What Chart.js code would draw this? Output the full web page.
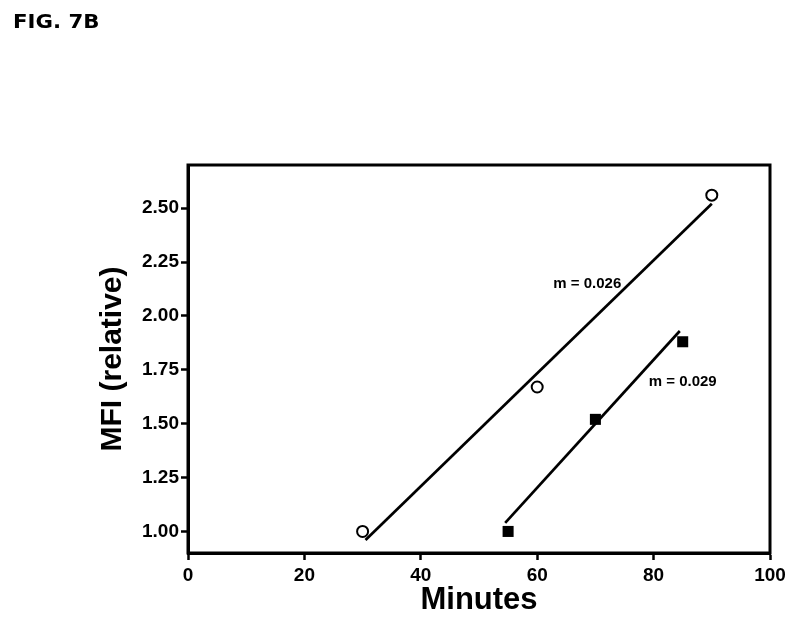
<!DOCTYPE html>
<html>
<head>
<meta charset="utf-8">
<script src="https://cdn.jsdelivr.net/npm/chart.js@4.4.1/dist/chart.umd.min.js"></script>
<style>
  html, body { margin: 0; padding: 0; background: #ffffff; }
  #wrap { width: 800px; height: 625px; position: relative; }
</style>
</head>
<body>
<div id="wrap"><canvas id="c" width="800" height="625"></canvas></div>
<script>
// ---- data ----
const figureTitle = 'FIG. 7B';
const xTitle = 'Minutes';
const yTitle = 'MFI (relative)';
const xTicks = [0, 20, 40, 60, 80, 100];
const yTicks = [1.00, 1.25, 1.50, 1.75, 2.00, 2.25, 2.50];

const circleMinutes = [30, 60, 90];
const circleMFI = [1.00, 1.67, 2.56];
const squareMinutes = [55, 70, 85];
const squareMFI = [1.00, 1.52, 1.88];

const fit1Minutes = [30.5, 90];
const fit1MFI = [0.96, 2.52];
const fit2Minutes = [54.5, 84.5];
const fit2MFI = [1.04, 1.93];

const slopeLabels = ['m = 0.026', 'm = 0.029'];
const slopeLabelX = [68.6, 85.0];
const slopeLabelY = [2.15, 1.695];

const pts = (xs, ys) => xs.map((x, i) => ({ x: x, y: ys[i] }));
const FONT = "'Liberation Sans', Arial, Helvetica, sans-serif";

const decor = {
  id: 'decor',
  afterDatasetsDraw(chart) {
    const { ctx, chartArea: a, scales } = chart;
    ctx.save();
    // plot frame
    ctx.strokeStyle = '#000';
    ctx.lineWidth = 3;
    ctx.strokeRect(a.left, a.top, a.right - a.left, a.bottom - a.top);
    // slope labels
    ctx.fillStyle = '#000';
    ctx.font = 'bold 15px ' + FONT;
    ctx.textAlign = 'center';
    ctx.textBaseline = 'middle';
    slopeLabels.forEach((t, i) => {
      ctx.fillText(t, scales.x.getPixelForValue(slopeLabelX[i]), scales.y.getPixelForValue(slopeLabelY[i]));
    });
    // figure title
    ctx.font = 'bold 19px "DejaVu Sans", ' + FONT;
    ctx.textAlign = 'left';
    ctx.textBaseline = 'alphabetic';
    ctx.translate(13, 28);
    ctx.scale(1.12, 1);
    ctx.fillText(figureTitle, 0, 0);
    ctx.restore();
  }
};

new Chart(document.getElementById('c'), {
  type: 'scatter',
  data: {
    datasets: [
      {
        data: pts(fit1Minutes, fit1MFI),
        showLine: true, borderColor: '#000', borderWidth: 2.7,
        pointRadius: 0, fill: false
      },
      {
        data: pts(fit2Minutes, fit2MFI),
        showLine: true, borderColor: '#000', borderWidth: 2.7,
        pointRadius: 0, fill: false
      },
      {
        data: pts(circleMinutes, circleMFI),
        showLine: false, pointStyle: 'circle', pointRadius: 5.5,
        pointBackgroundColor: '#fff', pointBorderColor: '#000', pointBorderWidth: 2
      },
      {
        data: pts(squareMinutes, squareMFI),
        showLine: false, pointStyle: 'rect', pointRadius: 7.8,
        pointBackgroundColor: '#000', pointBorderColor: '#000', pointBorderWidth: 0
      }
    ]
  },
  options: {
    responsive: false,
    animation: false,
    devicePixelRatio: 1,
    layout: { padding: { top: 165, right: 30, left: 0, bottom: 0 } },
    plugins: { legend: { display: false }, tooltip: { enabled: false }, title: { display: false } },
    scales: {
      x: {
        type: 'linear', position: 'bottom', min: 0, max: 100,
        afterBuildTicks: s => { s.ticks = xTicks.map(v => ({ value: v })); },
        afterFit: s => { s.height = 72; },
        ticks: { color: '#000', font: { family: FONT, size: 19, weight: 'bold' }, padding: 4, maxRotation: 0 },
        grid: { drawOnChartArea: false, drawTicks: true, tickLength: 7, tickWidth: 2.5, tickColor: '#000' },
        border: { display: true, color: '#000', width: 3 },
        title: { display: true, text: xTitle, color: '#000', font: { family: FONT, size: 31, weight: 'bold' }, padding: { top: 0, bottom: 6 } }
      },
      y: {
        type: 'linear', position: 'left', min: 0.9, max: 2.7,
        afterBuildTicks: s => { s.ticks = yTicks.map(v => ({ value: v })); },
        afterFit: s => { s.width = 188; },
        ticks: { color: '#000', font: { family: FONT, size: 19, weight: 'bold' }, padding: 2, callback: v => Number(v).toFixed(2) },
        grid: { drawOnChartArea: false, drawTicks: true, tickLength: 7, tickWidth: 2.5, tickColor: '#000' },
        border: { display: true, color: '#000', width: 3 },
        title: { display: true, text: yTitle, color: '#000', font: { family: FONT, size: 30, weight: 'bold' }, padding: { top: 95, bottom: 0 } }
      }
    }
  },
  plugins: [decor]
});
</script>
</body>
</html>
